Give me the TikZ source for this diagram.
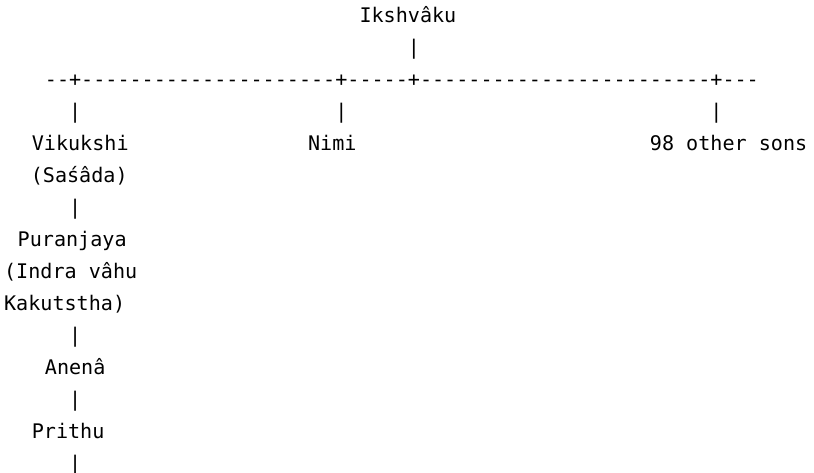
\documentclass[tikz,border=0pt]{standalone}
\usepackage{fontspec}
\setmonofont{DejaVu Sans Mono}
\begin{document}
\begin{tikzpicture}[x=1pt,y=1pt,
  txt/.style={anchor=base west,inner sep=0pt,outer sep=0pt,text=black,
    font=\fontsize{20.1}{24}\selectfont\ttfamily}]
\fill[white] (0,0) rectangle (814,-472);
\useasboundingbox (0,0) rectangle (814,-472);
% grid: x = 8.6 + 12.1*col ; baseline y = -(22.7 + 32*row)
\def\cx#1{\fpeval{8.6+12.1*#1}}
\def\ry#1{\fpeval{-(22.7+32*#1)}}
\node[txt] (ikshvaku) at (\cx{29},\ry{0}) {Ikshvâku};
\node[txt] (bar0) at (\cx{33},\ry{1}) {|};
\node[txt] (hline) at (\cx{3},\ry{2}) {--+---------------------+-----+------------------------+---};
\node[txt] (barA) at (\cx{5},\ry{3}) {|};
\node[txt] (barB) at (\cx{27},\ry{3}) {|};
\node[txt] (barC) at (\cx{58},\ry{3}) {|};
\node[txt] (vikukshi) at (\cx{2}-1,\ry{4}) {Vikukshi};
\node[txt] (nimi) at (\cx{25}-3,\ry{4}) {Nimi};
\node[txt] (others) at (\cx{53},\ry{4}) {98 other sons};
\node[txt] (sasada) at (\cx{2}-2,\ry{5}) {(Saśâda)};
\node[txt] (bar1) at (\cx{5},\ry{6}) {|};
\node[txt] (puranjaya) at (\cx{1}-3,\ry{7}) {Puranjaya};
\node[txt] (indra) at (\cx{0}-4.5,\ry{8}) {(Indra vâhu};
\node[txt] (kakutstha) at (\cx{0}-4.5,\ry{9}) {Kakutstha)};
\node[txt] (bar2) at (\cx{5},\ry{10}) {|};
\node[txt] (anena) at (\cx{3},\ry{11}) {Anenâ};
\node[txt] (bar3) at (\cx{5},\ry{12}) {|};
\node[txt] (prithu) at (\cx{2}-1,\ry{13}) {Prithu};
\node[txt] (bar4) at (\cx{5},\ry{14}) {|};
\end{tikzpicture}
\end{document}
